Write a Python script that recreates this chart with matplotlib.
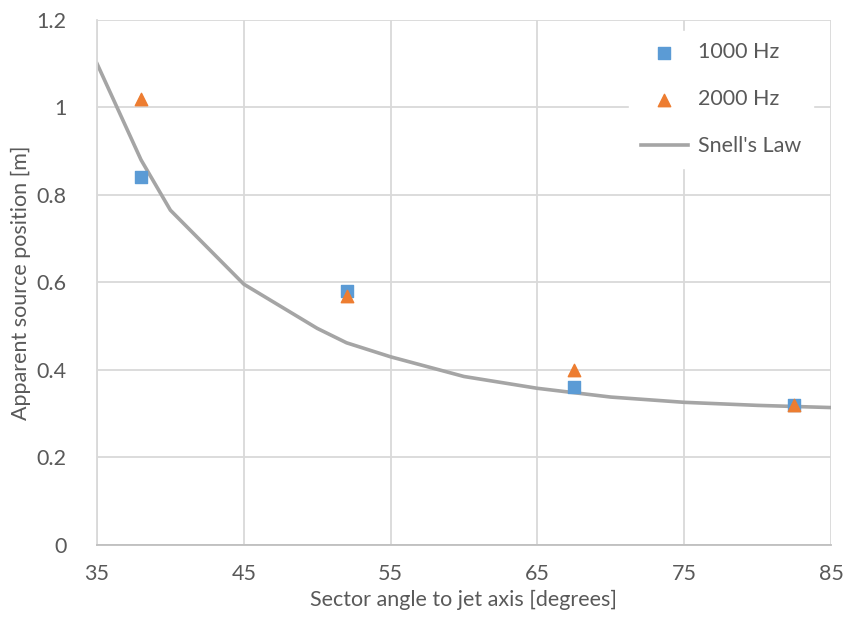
import matplotlib
matplotlib.use("Agg")
import matplotlib.pyplot as plt

# measured points
angle_pts = [38, 52, 67.5, 82.5]
pos_1000 = [0.84, 0.58, 0.36, 0.32]
pos_2000 = [1.02, 0.57, 0.40, 0.32]

# Snell's law curve
snell_angle = [35, 38, 40, 45, 50, 52, 55, 60, 65, 70, 75, 80, 85]
snell_pos = [1.10, 0.88, 0.765, 0.596, 0.495, 0.462, 0.430, 0.385, 0.358, 0.338, 0.326, 0.319, 0.314]

xticks = [35, 45, 55, 65, 75, 85]
yticks = [0, 0.2, 0.4, 0.6, 0.8, 1.0, 1.2]
ytick_labels = ["0", "0.2", "0.4", "0.6", "0.8", "1", "1.2"]

plt.rcParams['font.family'] = ['Lato', 'DejaVu Sans']
text_col = "#595959"
grid_col = "#D9D9D9"

fig = plt.figure(figsize=(8.45, 6.2), dpi=100)
ax = fig.add_axes([0.1148, 0.121, 0.8686, 0.847])

ax.plot(snell_angle, snell_pos, color="#A5A5A5", lw=2.6, label="Snell's Law", zorder=2)
ax.scatter(angle_pts, pos_1000, marker="s", s=75, color="#5B9BD5", label="1000 Hz", zorder=3)
ax.scatter(angle_pts, pos_2000, marker="^", s=80, color="#ED7D31", label="2000 Hz", zorder=4)

ax.set_xlim(35, 85)
ax.set_ylim(0, 1.2)
ax.set_xticks(xticks)
ax.set_yticks(yticks)
ax.set_yticklabels(ytick_labels)
ax.grid(True, color=grid_col, lw=1.3)
ax.set_axisbelow(True)
ax.tick_params(axis="x", length=0, labelsize=15.5, colors=text_col, pad=14)
ax.tick_params(axis="y", length=0, labelsize=15.5, colors=text_col, pad=22)
for s in ["top", "right"]:
    ax.spines[s].set_visible(False)
ax.spines["left"].set_color(grid_col)
ax.spines["left"].set_linewidth(1.3)
ax.spines["bottom"].set_color("#BFBFBF")
ax.spines["bottom"].set_linewidth(1.3)

ax.set_xlabel("Sector angle to jet axis [degrees]", fontsize=15.5, color=text_col, labelpad=4)
ax.set_ylabel("Apparent source position [m]", fontsize=15.5, color=text_col, labelpad=4)

handles, labels = ax.get_legend_handles_labels()
order = [1, 2, 0]
leg = ax.legend([handles[i] for i in order], [labels[i] for i in order],
                loc="upper right", bbox_to_anchor=(0.99, 1.0), frameon=True,
                fontsize=15.5, labelspacing=1.25, handlelength=2.2, borderpad=0.55,
                handletextpad=0.45, facecolor="white", edgecolor="white", framealpha=1)
for t in leg.get_texts():
    t.set_color(text_col)

fig.savefig("out.png", dpi=100)
